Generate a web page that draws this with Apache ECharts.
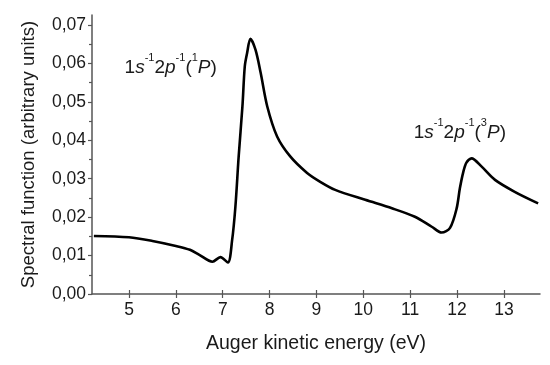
<!DOCTYPE html>
<html><head><meta charset="utf-8">
<script src="https://cdn.jsdelivr.net/npm/echarts@6/dist/echarts.min.js"></script>
<style>html,body{margin:0;padding:0;background:#fff}#c{width:550px;height:365px}</style>
</head><body><div id="c"></div>
<script>
const energy = [4.25, 5.0, 5.5, 6.0, 6.3, 6.5, 6.78, 6.95, 7.11, 7.20, 7.27, 7.34, 7.42, 7.47, 7.52, 7.59, 7.70, 7.81, 7.95, 8.16, 8.44, 8.80, 9.08, 9.40, 10.04, 10.61, 11.10, 11.46, 11.67, 11.85, 11.99, 12.06, 12.13, 12.20, 12.31, 12.52, 12.81, 13.23, 13.73];
const spectral = [0.0151, 0.01475, 0.0138, 0.0125, 0.0115, 0.0102, 0.0084, 0.0096, 0.0082, 0.0140, 0.0227, 0.0358, 0.0488, 0.0592, 0.0627, 0.0664, 0.0635, 0.0575, 0.0488, 0.0410, 0.0358, 0.0315, 0.0292, 0.0271, 0.0245, 0.0223, 0.0201, 0.0175, 0.0160, 0.0172, 0.0222, 0.0275, 0.0316, 0.0342, 0.0353, 0.0332, 0.0297, 0.0266, 0.0236];
const xTicks = [5, 6, 7, 8, 9, 10, 11, 12, 13];
const yTicks = [0, 0.01, 0.02, 0.03, 0.04, 0.05, 0.06, 0.07];
const yMinorTicks = [0.005, 0.015, 0.025, 0.035, 0.045, 0.055, 0.065];
const annotations = [
  {x: 5.89, y: 0.0596, term: '1'},
  {x: 12.06, y: 0.0427, term: '3'}
];
const xName = 'Auger kinetic energy (eV)';
const yName = 'Spectral function (arbitrary units)';

const font = 'Liberation Sans, Arial, sans-serif';
const axisCol = '#555';
const txtCol = '#1a1a1a';
const xMin = 4.21, xMax = 13.77, yMin = 0, yMax = 0.0726;

function annText(t) {
  return '{n|1}{i|s}{u|-1}{n|2}{i|p}{u|-1}{n|(}{u|' + t + '}{i|P}{n|)}';
}
const rich = {
  n: {fontSize: 19, fontFamily: font, color: txtCol, opacity: 1, lineHeight: 24, verticalAlign: 'bottom'},
  i: {fontSize: 19, fontFamily: font, fontStyle: 'italic', color: txtCol, opacity: 1, lineHeight: 24, verticalAlign: 'bottom'},
  u: {fontSize: 11, fontFamily: font, color: txtCol, opacity: 1, lineHeight: 24, verticalAlign: 'top'}
};

const chart = echarts.init(document.getElementById('c'), null, {renderer: 'canvas'});
chart.setOption({
  animation: false,
  backgroundColor: '#fff',
  grid: {left: 92, right: 10, top: 15, bottom: 71, containLabel: false},
  xAxis: [{
    type: 'value', min: xMin, max: xMax,
    name: xName, nameLocation: 'middle', nameGap: 40,
    nameTextStyle: {fontSize: 19.5, fontFamily: font, color: txtCol},
    axisLine: {show: true, onZero: false, lineStyle: {color: axisCol, width: 1.5}},
    axisTick: {show: true, length: 4, customValues: xTicks, lineStyle: {color: axisCol, width: 1.2}},
    axisLabel: {customValues: xTicks, fontSize: 17.5, fontFamily: font, color: txtCol, margin: 7},
    splitLine: {show: false}
  }, {
    type: 'value', min: xMin, max: xMax, position: 'bottom',
    axisLine: {show: false, onZero: false},
    axisTick: {show: true, inside: true, length: 4, customValues: xTicks, lineStyle: {color: axisCol, width: 1.2}},
    axisLabel: {show: false},
    splitLine: {show: false}
  }],
  yAxis: [{
    type: 'value', min: yMin, max: yMax,
    name: yName, nameLocation: 'middle', nameGap: 54, nameRotate: 90,
    nameTextStyle: {fontSize: 18.5, fontFamily: font, color: txtCol},
    axisLine: {show: true, onZero: false, lineStyle: {color: axisCol, width: 1.5}},
    axisTick: {show: true, length: 4, customValues: yTicks, lineStyle: {color: axisCol, width: 1.2}},
    axisLabel: {customValues: yTicks, fontSize: 17.5, fontFamily: font, color: txtCol, margin: 6,
      formatter: v => v.toFixed(2).replace('.', ',')},
    splitLine: {show: false}
  }, {
    type: 'value', min: yMin, max: yMax, position: 'left',
    axisLine: {show: false, onZero: false},
    axisTick: {show: true, length: 3, customValues: yMinorTicks, lineStyle: {color: axisCol, width: 1.2}},
    axisLabel: {show: false},
    splitLine: {show: false}
  }],
  series: [{
    type: 'line', xAxisIndex: 0, yAxisIndex: 0,
    data: energy.map((e, i) => [e, spectral[i]]),
    showSymbol: false, smooth: 0.3,
    lineStyle: {color: '#000', width: 2.6},
    z: 3
  }, {
    type: 'scatter', xAxisIndex: 0, yAxisIndex: 0,
    symbolSize: 0,
    itemStyle: {opacity: 1},
    data: annotations.map(a => [a.x, a.y]),
    label: {show: true, position: 'inside', color: txtCol, opacity: 1,
      formatter: p => annText(annotations[p.dataIndex].term), rich: rich},
    emphasis: {disabled: true},
    silent: true
  }]
});
</script></body></html>
